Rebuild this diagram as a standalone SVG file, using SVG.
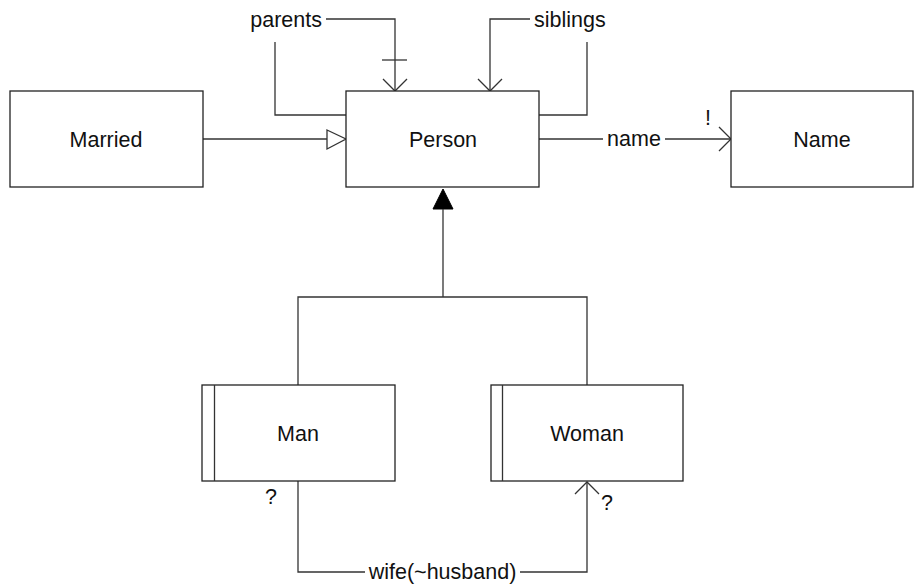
<svg xmlns="http://www.w3.org/2000/svg" width="915" height="588" viewBox="0 0 915 588">
<style>
.box{fill:#fff;stroke:#222;stroke-width:1.3}
.ln{fill:none;stroke:#333;stroke-width:1.3}
text{font-family:"Liberation Sans",Arial,sans-serif;font-size:21.5px;fill:#111}
.c{text-anchor:middle}
</style>
<rect width="915" height="588" fill="#fff"/>
<g id="connectors">
  <!-- parents -->
  <path class="ln" d="M326,19 H395 V91"/>
  <path class="ln" d="M382,60 H407"/>
  <path class="ln" d="M383,79 L395,91 L407,79"/>
  <path class="ln" d="M275,42 V115 H346"/>
  <text x="322" y="27" text-anchor="end">parents</text>
  <!-- siblings -->
  <path class="ln" d="M530,19 H490 V91"/>
  <path class="ln" d="M478,79 L490,91 L502,79"/>
  <path class="ln" d="M587,42 V115 H539"/>
  <text x="534" y="27">siblings</text>
  <!-- Married -> Person -->
  <path class="ln" d="M203,139 H327"/>
  <path class="ln" d="M327,130 L346,139 L327,149 Z" fill="#fff"/>
  <!-- name -->
  <path class="ln" d="M539,139 H603"/>
  <path class="ln" d="M665,139 H731"/>
  <path class="ln" d="M719,127 L731,139 L719,151"/>
  <text x="634" y="146" class="c">name</text>
  <text x="708" y="125" class="c">!</text>
  <!-- generalization -->
  <path d="M443,189 L433,209 L453,209 Z" fill="#000" stroke="#000" stroke-width="1"/>
  <path class="ln" d="M443,209 V297"/>
  <path class="ln" d="M298,385 V297 H587 V385"/>
  <!-- wife -->
  <path class="ln" d="M298,481 V572 H365"/>
  <path class="ln" d="M520,572 H587 V482"/>
  <path class="ln" d="M575,494 L587,482 L599,494"/>
  <text x="442.5" y="579" class="c">wife(~husband)</text>
  <text x="271" y="504" class="c">?</text>
  <text x="607" y="510" class="c">?</text>
</g>
<g id="married">
  <rect class="box" x="10" y="91" width="193" height="96"/>
  <text x="106" y="147" class="c">Married</text>
</g>
<g id="person">
  <rect class="box" x="346" y="91" width="193" height="96"/>
  <text x="443" y="147" class="c">Person</text>
</g>
<g id="name">
  <rect class="box" x="731" y="91" width="182" height="96"/>
  <text x="822" y="147" class="c">Name</text>
</g>
<g id="man">
  <rect class="box" x="202" y="385" width="193" height="96"/>
  <path class="ln" d="M214.5,385 V481"/>
  <text x="298" y="441" class="c">Man</text>
</g>
<g id="woman">
  <rect class="box" x="491" y="385" width="192" height="96"/>
  <path class="ln" d="M502.5,385 V481"/>
  <text x="587" y="441" class="c">Woman</text>
</g>
</svg>
